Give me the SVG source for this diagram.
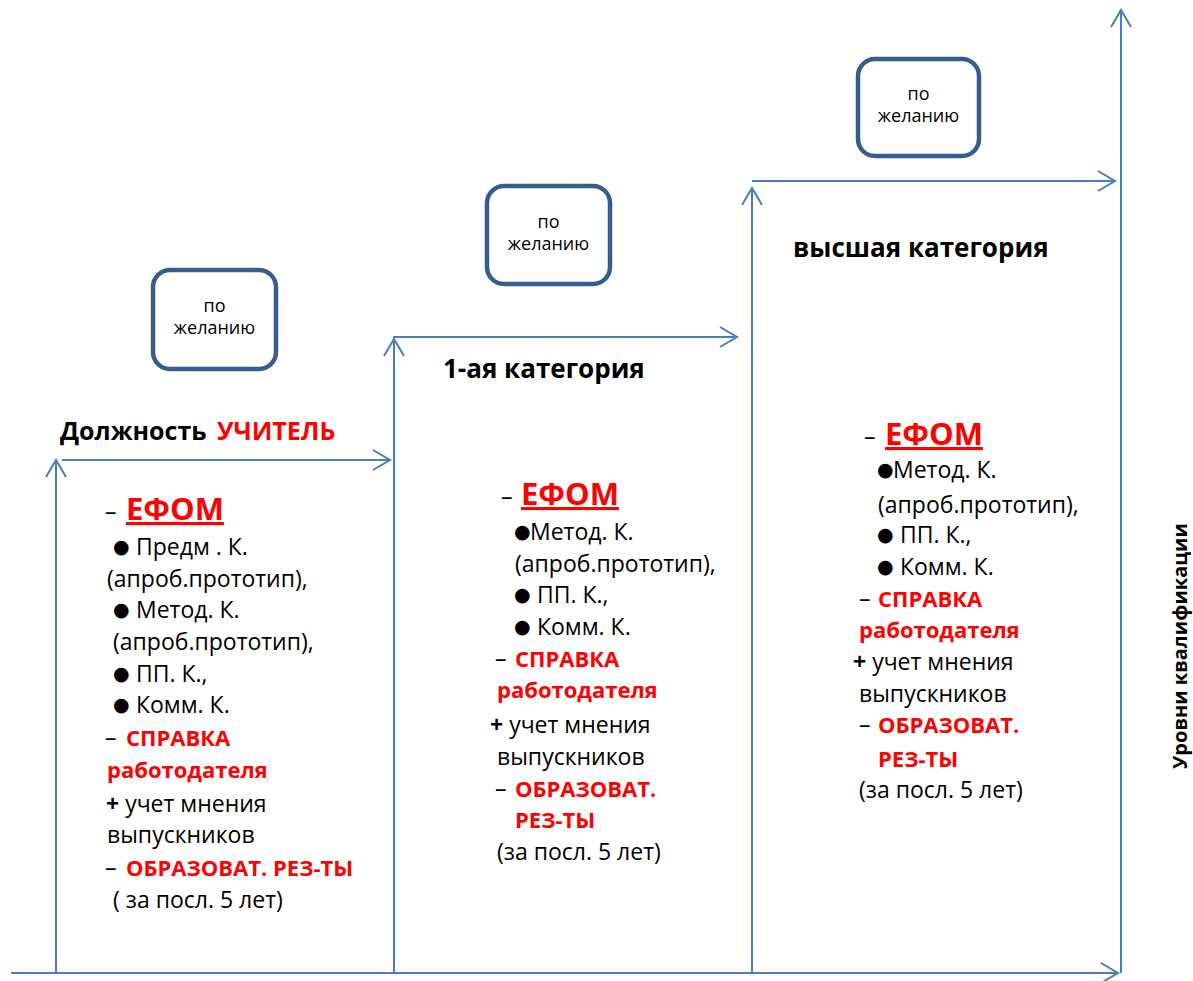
<svg xmlns="http://www.w3.org/2000/svg" width="1193" height="981" viewBox="0 0 1193 981">
<defs>
<marker id="ah" markerUnits="userSpaceOnUse" markerWidth="40" markerHeight="40" refX="0" refY="0" viewBox="-20 -20 40 40" orient="auto" overflow="visible">
<path d="M-17,-10 L0,0 L-17,10" fill="none" stroke="#4a7ebb" stroke-width="2"/>
</marker>
</defs>
<style>
.ln{stroke:#4a7ebb;stroke-width:2;fill:none}
.bx{fill:#fff;stroke:#385d8a;stroke-width:4.5}
.t{font-family:"Open Sans","Liberation Sans",sans-serif;font-size:23px;fill:#000}
.b{font-weight:bold}
.r{fill:#ff0000;font-weight:bold;font-size:22px}
.h{font-size:31px;text-decoration:underline}
.bul{font-family:"DejaVu Sans",sans-serif;font-size:19px}
.p{font-size:18px;text-anchor:middle}
.hd{font-weight:bold;font-size:26px}
.big{font-size:25px}
.ax{font-size:20px;font-weight:bold}
</style>
<rect width="1193" height="981" fill="#fff"/>
<g id="connectors">
<line class="ln" x1="11" y1="973" x2="1118" y2="973" marker-end="url(#ah)"/>
<line class="ln" x1="1121" y1="973" x2="1121" y2="10" marker-end="url(#ah)"/>
<line class="ln" x1="56" y1="973" x2="56" y2="460" marker-end="url(#ah)"/>
<line class="ln" x1="394" y1="973" x2="394" y2="339" marker-end="url(#ah)"/>
<line class="ln" x1="752" y1="973" x2="752" y2="188" marker-end="url(#ah)"/>
<line class="ln" x1="62" y1="460" x2="390" y2="460" marker-end="url(#ah)"/>
<line class="ln" x1="393" y1="337" x2="737" y2="337" marker-end="url(#ah)"/>
<line class="ln" x1="752" y1="181" x2="1115" y2="181" marker-end="url(#ah)"/>
</g>
<g id="box-left">
<rect class="bx" x="153" y="270" width="123" height="99" rx="17"/>
<text class="t p" x="214.5" y="311.5">по<tspan x="214.5" dy="22">желанию</tspan></text>
</g>
<g id="box-middle">
<rect class="bx" x="487" y="186" width="123" height="98" rx="17"/>
<text class="t p" x="548.5" y="227.5">по<tspan x="548.5" dy="22">желанию</tspan></text>
</g>
<g id="box-right">
<rect class="bx" x="858" y="59" width="121" height="97" rx="17"/>
<text class="t p" x="918.5" y="100">по<tspan x="918.5" dy="22">желанию</tspan></text>
</g>
<g id="level-teacher">
<text class="t b big" x="60" y="440">Должность <tspan class="r big" x="217">УЧИТЕЛЬ</tspan></text>
<text class="t" x="105" y="520">– <tspan class="r h" x="126">ЕФОМ</tspan></text>
<text class="t" x="113" y="555"><tspan class="bul" dy="-2">●</tspan><tspan x="136" dy="2">Предм . К.</tspan></text>
<text class="t" x="107" y="587">(апроб.прототип),</text>
<text class="t" x="113" y="618"><tspan class="bul" dy="-2">●</tspan><tspan x="136" dy="2">Метод. К.</tspan></text>
<text class="t" x="113" y="650">(апроб.прототип),</text>
<text class="t" x="113" y="682"><tspan class="bul" dy="-2">●</tspan><tspan x="136" dy="2">ПП. К.,</tspan></text>
<text class="t" x="113" y="713"><tspan class="bul" dy="-2">●</tspan><tspan x="136" dy="2">Комм. К.</tspan></text>
<text class="t" x="105" y="746">– <tspan class="r" x="126">СПРАВКА</tspan></text>
<text class="t r" x="107" y="778">работодателя</text>
<text class="t" x="106" y="812"><tspan class="b">+</tspan> учет мнения</text>
<text class="t" x="107" y="843">выпускников</text>
<text class="t" x="105" y="876">– <tspan class="r" x="126">ОБРАЗОВАТ. РЕЗ-ТЫ</tspan></text>
<text class="t" x="113" y="908">( за посл. 5 лет)</text>
</g>
<g id="level-first">
<text class="t hd" x="443" y="378">1-ая категория</text>
<text class="t" x="501" y="505">– <tspan class="r h" x="521">ЕФОМ</tspan></text>
<text class="t" x="514" y="540"><tspan class="bul" dy="-2">●</tspan><tspan x="530" dy="2">Метод. К.</tspan></text>
<text class="t" x="515" y="572">(апроб.прототип),</text>
<text class="t" x="514" y="603"><tspan class="bul" dy="-2">●</tspan><tspan x="537" dy="2">ПП. К.,</tspan></text>
<text class="t" x="514" y="635"><tspan class="bul" dy="-2">●</tspan><tspan x="537" dy="2">Комм. К.</tspan></text>
<text class="t" x="495" y="667">– <tspan class="r" x="515">СПРАВКА</tspan></text>
<text class="t r" x="497" y="698">работодателя</text>
<text class="t" x="490" y="733"><tspan class="b">+</tspan> учет мнения</text>
<text class="t" x="497" y="765">выпускников</text>
<text class="t" x="495" y="797">– <tspan class="r" x="515">ОБРАЗОВАТ.</tspan></text>
<text class="t r" x="515" y="828">РЕЗ-ТЫ</text>
<text class="t" x="497" y="860">(за посл. 5 лет)</text>
</g>
<g id="level-highest">
<text class="t hd" x="793" y="257">высшая категория</text>
<text class="t" x="864" y="445">– <tspan class="r h" x="885">ЕФОМ</tspan></text>
<text class="t" x="877" y="478"><tspan class="bul" dy="-2">●</tspan><tspan x="893" dy="2">Метод. К.</tspan></text>
<text class="t" x="878" y="513">(апроб.прототип),</text>
<text class="t" x="877" y="543"><tspan class="bul" dy="-2">●</tspan><tspan x="900" dy="2">ПП. К.,</tspan></text>
<text class="t" x="877" y="575"><tspan class="bul" dy="-2">●</tspan><tspan x="900" dy="2">Комм. К.</tspan></text>
<text class="t" x="859" y="607">– <tspan class="r" x="878">СПРАВКА</tspan></text>
<text class="t r" x="859" y="638">работодателя</text>
<text class="t" x="853" y="670"><tspan class="b">+</tspan> учет мнения</text>
<text class="t" x="859" y="702">выпускников</text>
<text class="t" x="859" y="733">– <tspan class="r" x="878">ОБРАЗОВАТ.</tspan></text>
<text class="t r" x="878" y="767">РЕЗ-ТЫ</text>
<text class="t" x="859" y="798">(за посл. 5 лет)</text>
</g>
<g id="axis-label">
<text class="t ax" x="0" y="0" text-anchor="middle" transform="translate(1187,646) rotate(-90)">Уровни квалификации</text>
</g>
</svg>
